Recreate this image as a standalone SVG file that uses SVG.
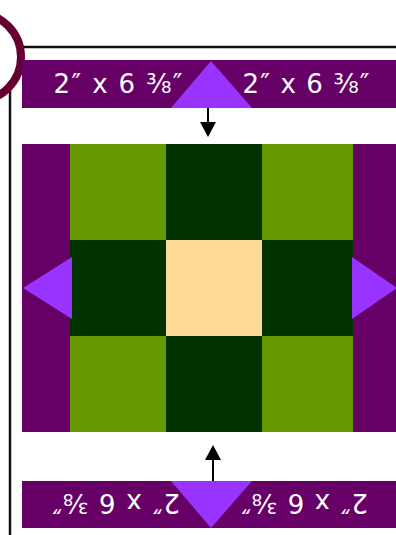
<svg xmlns="http://www.w3.org/2000/svg" width="396" height="535" viewBox="0 0 396 535">
<defs>
<style>
.band{fill:#660066}
.tri{fill:#9933FF}
.lbl{font-family:"DejaVu Sans",sans-serif;font-size:26px;fill:#ffffff;text-anchor:middle}
.conn{stroke:#000;stroke-width:2;fill:none}
</style>
<marker id="ah" markerUnits="userSpaceOnUse" markerWidth="16" markerHeight="16" refX="0" refY="8" orient="auto" viewBox="0 0 15 16">
<path d="M0,0 L15,8 L0,16 Z" fill="#000"/>
</marker>
</defs>
<rect x="10" y="47" width="500" height="600" fill="none" stroke="#111" stroke-width="2.5"/>
<circle cx="-23" cy="57" r="44" fill="#fff" stroke="#660033" stroke-width="8"/>
<g id="block">
<rect x="22" y="144" width="48" height="288" fill="#660066"/>
<rect x="353" y="144" width="48" height="288" fill="#660066"/>
<rect x="70" y="144" width="96" height="96" fill="#669900"/>
<rect x="166" y="144" width="96" height="96" fill="#003300"/>
<rect x="262" y="144" width="91" height="96" fill="#669900"/>
<rect x="70" y="240" width="96" height="96" fill="#003300"/>
<rect x="166" y="240" width="96" height="96" fill="#FFD995"/>
<rect x="262" y="240" width="91" height="96" fill="#003300"/>
<rect x="70" y="336" width="96" height="96" fill="#669900"/>
<rect x="166" y="336" width="96" height="96" fill="#003300"/>
<rect x="262" y="336" width="91" height="96" fill="#669900"/>
</g>
<g id="left-tri">
<polygon class="tri" points="23,288 72,257 72,288"/>
<polygon class="tri" points="23,288 72,288 72,319"/>
</g>
<g id="right-tri">
<polygon class="tri" points="352,257 352,288 397,288"/>
<polygon class="tri" points="352,288 397,288 352,319"/>
</g>
<g id="top-band">
<rect class="band" x="22" y="60" width="380" height="48"/>
<polygon class="tri" points="171,108 211,61 211,108"/>
<polygon class="tri" points="211,108 211,61 252,108"/>
<text class="lbl" x="118" y="93" textLength="129" lengthAdjust="spacing">2″ x 6 ⅜″</text>
<text class="lbl" x="306" y="93" textLength="127" lengthAdjust="spacing">2″ x 6 ⅜″</text>
</g>
<g id="bottom-band">
<rect class="band" x="22" y="481" width="380" height="47"/>
<polygon class="tri" points="171,481 211,481 211,528"/>
<polygon class="tri" points="211,481 252,481 211,528"/>
<text class="lbl" x="116" y="513" transform="rotate(180 116 503.5)" textLength="128" lengthAdjust="spacing">2″ x 6 ⅜″</text>
<text class="lbl" x="304.5" y="513" transform="rotate(180 304.5 503.5)" textLength="127" lengthAdjust="spacing">2″ x 6 ⅜″</text>
</g>
<g id="connectors">
<line class="conn" x1="208" y1="108" x2="208" y2="122" marker-end="url(#ah)"/>
<line class="conn" x1="213" y1="481" x2="213" y2="460" marker-end="url(#ah)"/>
</g>
</svg>
